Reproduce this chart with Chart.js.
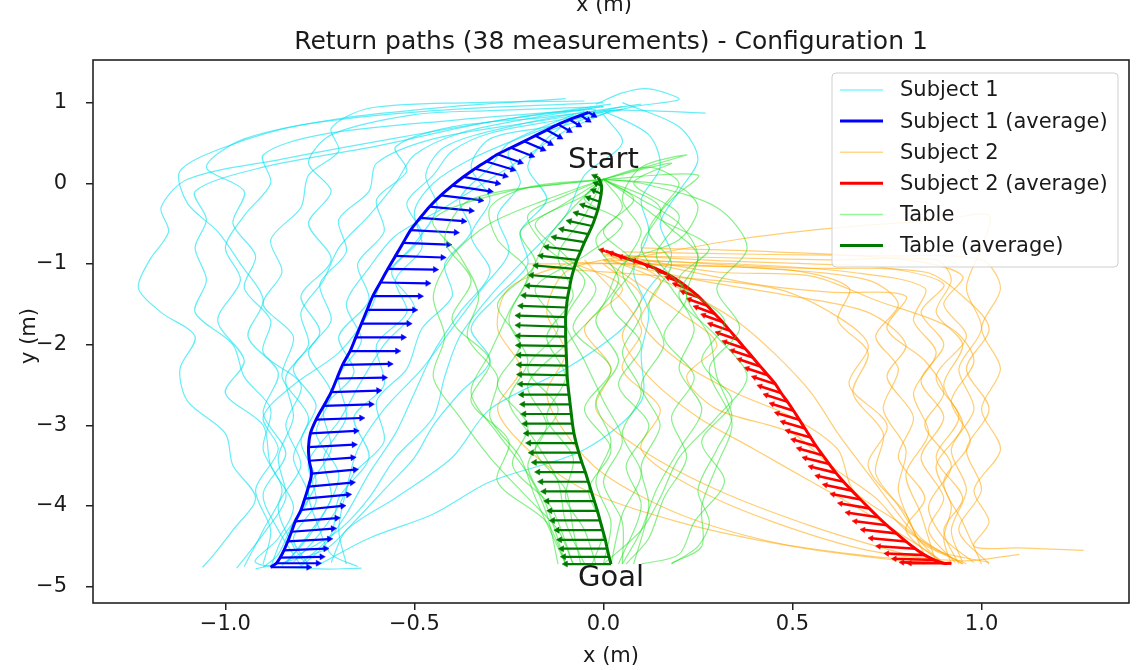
<!DOCTYPE html>
<html>
<head>
<meta charset="utf-8">
<script src="https://cdn.jsdelivr.net/npm/chart.js@4.4.1/dist/chart.umd.min.js"></script>
<style>
  html, body { margin: 0; padding: 0; background: #fff; }
</style>
</head>
<body>
<canvas id="myChart" width="1136" height="670"></canvas>
<script>
// tick labels
const xTicks = [-1.0, -0.5, 0.0, 0.5, 1.0];
const yTicks = [1, 0, -1, -2, -3, -4, -5];
const legendLabels = ['Subject 1', 'Subject 1 (average)', 'Subject 2', 'Subject 2 (average)', 'Table', 'Table (average)'];

// single return paths, [x, y] in m
const subject1Paths = [
  [[0.02,0.98],[-0.25,0.8],[-0.55,0.56],[-0.85,0.3],[-1.1,0.05],[-1.17,-0.3],[-1.15,-0.6],[-1.2,-0.95],[-1.23,-1.3],[-1.17,-1.6],[-1.08,-1.9],[-1.12,-2.3],[-1.1,-2.7],[-1.0,-3.1],[-0.98,-3.5],[-0.92,-3.9],[-0.98,-4.3],[-1.03,-4.6],[-1.06,-4.76]],
  [[0.0,0.95],[-0.3,0.76],[-0.6,0.46],[-0.9,0.2],[-1.08,-0.1],[-1.05,-0.45],[-1.08,-0.8],[-1.05,-1.2],[-1.08,-1.6],[-0.98,-2.0],[-0.95,-2.4],[-0.88,-2.8],[-0.9,-3.3],[-0.85,-3.8],[-0.9,-4.3],[-0.95,-4.75]],
  [[-0.05,1.02],[-0.35,1.0],[-0.62,0.93],[-0.72,0.68],[-0.7,0.4],[-0.78,0.1],[-0.8,-0.3],[-0.88,-0.7],[-0.85,-1.1],[-0.9,-1.5],[-0.82,-1.9],[-0.85,-2.4],[-0.78,-2.9],[-0.82,-3.4],[-0.78,-3.9],[-0.85,-4.4],[-0.88,-4.76]],
  [[0.05,0.92],[-0.2,0.75],[-0.45,0.55],[-0.6,0.25],[-0.62,-0.1],[-0.7,-0.45],[-0.68,-0.85],[-0.75,-1.25],[-0.72,-1.7],[-0.78,-2.1],[-0.72,-2.6],[-0.76,-3.1],[-0.7,-3.6],[-0.74,-4.1],[-0.8,-4.5],[-0.85,-4.74]],
  [[-0.02,0.9],[-0.2,0.6],[-0.35,0.3],[-0.45,0.0],[-0.5,-0.35],[-0.48,-0.8],[-0.55,-1.2],[-0.52,-1.6],[-0.6,-2.0],[-0.58,-2.5],[-0.66,-2.9],[-0.62,-3.4],[-0.7,-3.9],[-0.72,-4.35],[-0.8,-4.72]],
  [[0.1,0.98],[-0.15,0.82],[-0.4,0.7],[-0.55,0.45],[-0.52,0.15],[-0.6,-0.2],[-0.58,-0.6],[-0.65,-1.0],[-0.62,-1.45],[-0.7,-1.9],[-0.66,-2.35],[-0.74,-2.8],[-0.72,-3.3],[-0.78,-3.8],[-0.75,-4.3],[-0.72,-4.6],[-0.65,-4.75]],
  [[-0.08,0.85],[-0.25,0.5],[-0.3,0.2],[-0.38,-0.2],[-0.35,-0.6],[-0.42,-1.0],[-0.4,-1.4],[-0.48,-1.8],[-0.52,-2.3],[-0.6,-2.7],[-0.58,-3.2],[-0.66,-3.6],[-0.7,-4.0],[-0.76,-4.4],[-0.82,-4.7]],
  [[0.27,0.87],[0.0,0.9],[-0.25,0.7],[-0.42,0.45],[-0.47,0.1],[-0.44,-0.3],[-0.5,-0.75],[-0.58,-1.15],[-0.62,-1.6],[-0.7,-2.1],[-0.82,-2.5],[-0.9,-2.9],[-0.86,-3.3],[-0.92,-3.8],[-0.88,-4.3],[-0.9,-4.72]],
  [[0.0,0.9],[0.12,0.6],[0.15,0.2],[0.1,-0.2],[0.12,-0.6],[0.08,-1.1],[0.12,-1.6],[0.1,-2.1],[0.1,-2.7],[-0.05,-3.3],[-0.3,-3.7],[-0.45,-4.1],[-0.62,-4.4],[-0.75,-4.72]],
  [[0.05,1.0],[0.2,0.7],[0.25,0.3],[0.2,-0.1],[0.15,-0.5],[0.18,-0.9],[0.12,-1.3],[0.05,-1.8],[-0.1,-2.3],[-0.3,-2.8],[-0.4,-3.4],[-0.55,-3.9],[-0.68,-4.3],[-0.72,-4.7]],
  [[-0.1,1.05],[-0.4,0.95],[-0.7,0.8],[-0.95,0.55],[-1.05,0.2],[-0.95,-0.1],[-0.98,-0.5],[-0.92,-0.9],[-0.95,-1.3],[-0.88,-1.7],[-0.9,-2.1],[-0.8,-2.5],[-0.84,-3.0],[-0.8,-3.5],[-0.86,-4.0],[-0.82,-4.5],[-0.78,-4.76]],
  [[0.0,0.88],[-0.15,0.7],[-0.3,0.55],[-0.35,0.2],[-0.3,-0.2],[-0.35,-0.65],[-0.3,-1.1],[-0.38,-1.6],[-0.45,-2.1],[-0.5,-2.6],[-0.55,-3.1],[-0.62,-3.6],[-0.68,-4.1],[-0.74,-4.5],[-0.8,-4.75]],
  [[0.0,0.95],[-0.3,0.9],[-0.5,0.85],[-0.72,0.6],[-0.78,0.25],[-0.72,-0.1],[-0.78,-0.5],[-0.72,-0.95],[-0.8,-1.4],[-0.75,-1.85],[-0.82,-2.3],[-0.76,-2.75],[-0.8,-3.2],[-0.76,-3.7],[-0.82,-4.2],[-0.86,-4.6],[-0.9,-4.76]],
  [[-0.02,0.98],[0.05,1.12],[0.12,1.17],[0.2,1.04],[0.08,0.95],[-0.1,0.72],[-0.25,0.4],[-0.22,0.0],[-0.28,-0.4],[-0.25,-0.85],[-0.32,-1.3],[-0.4,-1.8],[-0.48,-2.3],[-0.58,-2.8],[-0.65,-3.3],[-0.68,-3.8],[-0.7,-4.3],[-0.68,-4.72]],
  [[-0.02,0.92],[-0.4,0.78],[-0.75,0.6],[-0.9,0.35],[-0.88,0.0],[-0.95,-0.4],[-1.0,-0.8],[-0.96,-1.2],[-1.02,-1.7],[-0.95,-2.2],[-1.0,-2.6],[-0.9,-3.0],[-0.88,-3.5],[-0.82,-4.0],[-0.86,-4.4],[-0.92,-4.7],[-0.75,-4.78],[-0.64,-4.77]],
  [[0.0,0.85],[0.05,0.5],[-0.05,0.1],[-0.1,-0.4],[-0.2,-0.9],[-0.3,-1.4],[-0.38,-1.9],[-0.42,-2.4],[-0.45,-2.9],[-0.55,-3.4],[-0.62,-3.9],[-0.7,-4.3],[-0.85,-4.72]],
  [[-0.03,0.93],[-0.2,0.8],[-0.38,0.62],[-0.5,0.35],[-0.55,0.0],[-0.62,-0.4],[-0.7,-0.8],[-0.74,-1.2],[-0.8,-1.6],[-0.78,-2.0],[-0.84,-2.4],[-0.82,-2.9],[-0.86,-3.4],[-0.84,-3.9],[-0.9,-4.35],[-0.97,-4.77]],
  [[0.02,0.9],[-0.1,0.65],[-0.2,0.35],[-0.3,0.05],[-0.42,-0.3],[-0.55,-0.65],[-0.62,-1.05],[-0.68,-1.5],[-0.64,-1.95],[-0.7,-2.4],[-0.68,-2.9],[-0.74,-3.4],[-0.72,-3.9],[-0.78,-4.35],[-0.84,-4.72]],
  [[0.0,1.0],[-0.45,0.9],[-0.8,0.72],[-1.0,0.45],[-1.12,0.15],[-1.1,-0.25],[-1.02,-0.6],[-0.96,-1.0],[-0.9,-1.45],[-0.94,-1.9],[-0.86,-2.35],[-0.9,-2.85],[-0.84,-3.35],[-0.9,-3.85],[-0.86,-4.3],[-0.8,-4.74]],
  [[0.05,0.95],[-0.1,0.8],[-0.3,0.62],[-0.4,0.4],[-0.45,0.1],[-0.52,-0.25],[-0.48,-0.65],[-0.56,-1.1],[-0.5,-1.55],[-0.58,-2.0],[-0.64,-2.45],[-0.7,-2.95],[-0.78,-3.45],[-0.76,-3.95],[-0.82,-4.4],[-0.78,-4.73]],
  [[-0.05,0.9],[-0.15,0.55],[-0.2,0.2],[-0.15,-0.2],[-0.22,-0.6],[-0.2,-1.0],[-0.28,-1.4],[-0.35,-1.8],[-0.3,-2.2],[-0.38,-2.6],[-0.45,-3.0],[-0.5,-3.4],[-0.58,-3.8],[-0.66,-4.2],[-0.74,-4.55],[-0.92,-4.78]]
];

const subject2Paths = [
  [[0.0,-0.9],[0.3,-0.92],[0.6,-0.95],[0.88,-0.95],[0.92,-1.2],[0.88,-1.6],[0.95,-2.0],[0.9,-2.5],[0.95,-3.0],[0.88,-3.5],[0.92,-4.0],[0.9,-4.4],[0.92,-4.72]],
  [[0.0,-0.95],[0.35,-1.0],[0.65,-1.1],[0.85,-1.3],[0.82,-1.7],[0.88,-2.1],[0.82,-2.6],[0.86,-3.1],[0.8,-3.6],[0.84,-4.1],[0.88,-4.72]],
  [[0.05,-0.95],[0.35,-0.7],[0.6,-0.56],[0.9,-0.45],[1.02,-0.4],[1.0,-0.8],[0.96,-1.3],[1.0,-1.8],[0.94,-2.3],[0.98,-2.8],[0.92,-3.3],[0.96,-3.8],[0.92,-4.3],[0.95,-4.7]],
  [[-0.2,-1.0],[0.1,-1.0],[0.4,-1.05],[0.7,-1.2],[0.78,-1.5],[0.72,-1.9],[0.78,-2.3],[0.74,-2.8],[0.8,-3.3],[0.78,-3.8],[0.82,-4.3],[0.86,-4.72]],
  [[0.02,-0.95],[0.2,-1.3],[0.35,-1.7],[0.45,-2.1],[0.55,-2.6],[0.62,-3.1],[0.7,-3.6],[0.78,-4.1],[0.85,-4.5],[0.9,-4.72]],
  [[0.05,-0.9],[-0.1,-1.1],[-0.15,-1.6],[-0.1,-2.1],[-0.15,-2.6],[-0.1,-3.1],[0.0,-3.6],[0.2,-4.1],[0.45,-4.45],[0.7,-4.62],[0.88,-4.7]],
  [[0.0,-1.0],[0.1,-1.4],[0.05,-1.9],[0.12,-2.4],[0.25,-2.9],[0.4,-3.3],[0.55,-3.7],[0.7,-4.1],[0.82,-4.45],[0.9,-4.7]],
  [[0.05,-0.85],[0.4,-0.88],[0.75,-0.9],[1.0,-0.95],[1.05,-1.3],[1.0,-1.8],[1.05,-2.3],[1.0,-2.8],[1.05,-3.3],[0.98,-3.8],[1.02,-4.2],[0.98,-4.5],[1.1,-4.52],[1.27,-4.55]],
  [[0.0,-0.95],[0.25,-1.2],[0.5,-1.4],[0.7,-1.6],[0.8,-2.0],[0.75,-2.4],[0.82,-2.9],[0.78,-3.4],[0.85,-3.9],[0.8,-4.3],[0.9,-4.72]],
  [[-0.1,-1.0],[-0.25,-1.3],[-0.28,-1.8],[-0.22,-2.3],[-0.28,-2.8],[-0.2,-3.3],[-0.05,-3.8],[0.2,-4.2],[0.5,-4.5],[0.85,-4.72]],
  [[0.05,-0.9],[0.3,-1.1],[0.55,-1.15],[0.72,-1.45],[0.92,-1.8],[0.98,-2.2],[0.92,-2.7],[0.97,-3.2],[0.9,-3.7],[0.95,-4.2],[1.0,-4.72]],
  [[0.0,-0.95],[0.2,-1.6],[0.3,-2.0],[0.22,-2.4],[0.3,-2.8],[0.5,-3.1],[0.6,-3.5],[0.72,-3.9],[0.8,-4.3],[0.95,-4.72]],
  [[-0.05,-0.95],[0.1,-1.8],[0.05,-2.3],[0.15,-2.8],[0.1,-3.3],[0.25,-3.8],[0.45,-4.2],[0.7,-4.55],[0.95,-4.68],[1.1,-4.6]],
  [[0.05,-0.92],[0.4,-1.25],[0.6,-1.35],[0.8,-1.4],[0.75,-1.8],[0.85,-2.2],[0.9,-2.6],[0.85,-3.0],[0.92,-3.5],[0.86,-4.0],[0.9,-4.4],[0.98,-4.7]],
  [[0.1,-0.8],[0.45,-0.85],[0.8,-0.95],[0.95,-1.15],[0.9,-1.5],[0.96,-1.9],[0.88,-2.4],[0.94,-2.9],[0.88,-3.4],[0.95,-3.9],[0.9,-4.3],[0.94,-4.72]],
  [[-0.15,-1.05],[0.15,-1.15],[0.45,-1.3],[0.6,-1.6],[0.7,-2.0],[0.65,-2.5],[0.75,-3.0],[0.7,-3.5],[0.78,-4.0],[0.84,-4.4],[0.95,-4.72]],
  [[0.0,-0.88],[0.3,-0.96],[0.55,-1.0],[0.75,-1.05],[0.9,-1.25],[0.84,-1.6],[0.9,-2.0],[0.84,-2.45],[0.9,-2.9],[0.84,-3.4],[0.9,-3.9],[0.86,-4.3],[0.93,-4.7]],
  [[-0.08,-0.98],[0.2,-1.02],[0.5,-1.08],[0.65,-1.3],[0.62,-1.7],[0.7,-2.1],[0.66,-2.6],[0.74,-3.1],[0.72,-3.6],[0.8,-4.1],[0.84,-4.45],[0.96,-4.72]],
  [[0.02,-0.9],[0.15,-1.2],[0.1,-1.7],[0.2,-2.2],[0.35,-2.6],[0.5,-2.9],[0.62,-3.3],[0.66,-3.8],[0.78,-4.2],[0.88,-4.55],[1.02,-4.7]],
  [[-0.1,-0.95],[0.05,-1.3],[-0.05,-1.8],[0.02,-2.3],[-0.02,-2.8],[0.1,-3.3],[0.3,-3.8],[0.55,-4.25],[0.8,-4.6],[0.92,-4.72]],
  [[0.1,-0.95],[0.5,-1.05],[0.85,-1.1],[0.95,-1.4],[1.02,-1.8],[0.96,-2.3],[1.02,-2.8],[0.96,-3.3],[1.0,-3.8],[0.94,-4.3],[1.02,-4.72]]
];

const tablePaths = [
  [[0.0,0.05],[-0.15,-0.2],[-0.3,-0.5],[-0.4,-0.9],[-0.45,-1.4],[-0.42,-1.9],[-0.45,-2.4],[-0.38,-2.9],[-0.3,-3.4],[-0.2,-3.9],[-0.12,-4.3],[-0.08,-4.72]],
  [[0.0,0.05],[0.1,-0.2],[0.2,-0.5],[0.25,-0.9],[0.22,-1.4],[0.28,-1.9],[0.3,-2.4],[0.34,-2.9],[0.3,-3.3],[0.25,-3.8],[0.28,-4.2],[0.25,-4.5],[0.18,-4.72]],
  [[0.0,0.05],[0.22,0.35],[0.1,0.2],[0.05,-0.2],[0.1,-0.6],[0.05,-1.1],[0.1,-1.6],[0.05,-2.1],[0.1,-2.6],[0.05,-3.1],[0.1,-3.6],[0.05,-4.1],[0.02,-4.72]],
  [[0.0,0.05],[-0.08,-0.3],[-0.15,-0.7],[-0.2,-1.2],[-0.25,-1.7],[-0.2,-2.2],[-0.25,-2.7],[-0.18,-3.2],[-0.12,-3.7],[-0.1,-4.2],[-0.05,-4.72]],
  [[0.0,0.05],[0.05,-0.3],[-0.02,-0.7],[0.04,-1.2],[-0.02,-1.7],[0.04,-2.2],[-0.02,-2.7],[0.02,-3.2],[-0.02,-3.7],[0.02,-4.2],[0.0,-4.72]],
  [[0.0,0.05],[-0.25,-0.1],[-0.45,-0.45],[-0.38,-0.9],[-0.33,-1.4],[-0.36,-1.9],[-0.28,-2.4],[-0.3,-2.9],[-0.22,-3.4],[-0.18,-3.9],[-0.1,-4.72]],
  [[0.0,0.05],[0.25,0.1],[0.18,-0.2],[0.12,-0.6],[0.18,-1.0],[0.12,-1.5],[0.16,-2.0],[0.1,-2.5],[0.15,-3.0],[0.1,-3.5],[0.12,-4.0],[0.08,-4.72]],
  [[0.0,0.05],[-0.05,-0.4],[-0.12,-0.9],[-0.08,-1.4],[-0.15,-1.9],[-0.1,-2.4],[-0.15,-2.9],[-0.08,-3.4],[-0.1,-3.9],[-0.05,-4.3],[-0.02,-4.72]],
  [[0.0,0.05],[0.15,-0.3],[0.1,-0.8],[0.18,-1.3],[0.24,-1.8],[0.2,-2.3],[0.26,-2.8],[0.2,-3.3],[0.14,-3.8],[0.1,-4.3],[0.05,-4.72]],
  [[0.0,0.05],[-0.2,-0.05],[-0.3,-0.3],[-0.28,-0.7],[-0.2,-1.1],[-0.25,-1.6],[-0.3,-2.1],[-0.35,-2.6],[-0.28,-3.1],[-0.2,-3.6],[-0.15,-4.1],[-0.12,-4.72]],
  [[0.0,0.05],[0.1,0.0],[0.3,-0.3],[0.38,-0.8],[0.3,-1.3],[0.36,-1.8],[0.28,-2.3],[0.34,-2.97],[0.3,-3.5],[0.26,-4.0],[0.26,-4.5],[0.18,-4.71]],
  [[0.0,0.05],[-0.1,-0.15],[-0.2,-0.4],[-0.15,-0.8],[-0.05,-1.2],[-0.1,-1.7],[-0.05,-2.2],[0.0,-2.7],[0.05,-3.2],[0.0,-3.7],[0.05,-4.2],[0.05,-4.72]],
  [[0.0,0.05],[0.2,-0.05],[0.25,-0.3],[0.2,-0.7],[0.05,-1.0],[0.0,-1.5],[-0.1,-2.0],[-0.2,-2.5],[-0.15,-3.0],[-0.2,-3.5],[-0.15,-4.0],[-0.1,-4.72]],
  [[0.0,0.05],[-0.35,-0.2],[-0.42,-0.7],[-0.35,-1.2],[-0.4,-1.7],[-0.3,-2.2],[-0.35,-2.7],[-0.25,-3.2],[-0.28,-3.7],[-0.15,-4.2],[-0.1,-4.72]],
  [[0.0,0.05],[0.12,0.2],[0.2,0.0],[0.15,-0.4],[0.25,-0.9],[0.2,-1.4],[0.3,-1.9],[0.38,-2.4],[0.3,-2.9],[0.2,-3.4],[0.15,-3.9],[0.1,-4.3],[0.0,-4.72]],
  [[0.0,0.05],[-0.05,-0.2],[0.05,-0.5],[-0.05,-0.9],[-0.18,-1.3],[-0.12,-1.8],[-0.2,-2.3],[-0.12,-2.8],[-0.18,-3.3],[-0.1,-3.8],[-0.08,-4.3],[-0.06,-4.72]],
  [[0.0,0.05],[0.08,-0.2],[0.0,-0.6],[0.08,-1.0],[0.02,-1.5],[0.1,-2.0],[0.04,-2.5],[0.12,-3.0],[0.06,-3.5],[0.1,-4.0],[0.04,-4.72]],
  [[0.0,0.05],[-0.12,-0.3],[-0.22,-0.6],[-0.18,-1.0],[-0.28,-1.5],[-0.22,-2.0],[-0.28,-2.5],[-0.2,-3.0],[-0.24,-3.5],[-0.14,-4.0],[-0.08,-4.72]],
  [[0.0,0.05],[0.18,0.25],[0.08,0.0],[0.2,-0.4],[0.14,-0.9],[0.22,-1.4],[0.16,-1.9],[0.24,-2.4],[0.18,-2.9],[0.22,-3.4],[0.16,-3.9],[0.12,-4.4],[0.06,-4.72]],
  [[0.0,0.05],[-0.05,-0.15],[-0.18,-0.5],[-0.1,-0.9],[-0.02,-1.3],[-0.08,-1.8],[0.02,-2.3],[-0.05,-2.8],[0.02,-3.3],[-0.04,-3.8],[0.0,-4.3],[-0.03,-4.72]],
  [[0.0,0.05],[0.05,-0.1],[0.15,-0.45],[0.28,-0.8],[0.2,-1.2],[0.32,-1.7],[0.26,-2.2],[0.34,-2.7],[0.26,-3.2],[0.32,-3.7],[0.24,-4.2],[0.2,-4.6],[0.1,-4.72]]
];

// average paths and their orientation arrows (u, v in m)
const subject1AvgX = [-0.04,-0.06,-0.09,-0.12,-0.15,-0.18,-0.21,-0.245,-0.28,-0.31,-0.34,-0.37,-0.40,-0.43,-0.46,-0.485,-0.51,-0.53,-0.55,-0.57,-0.59,-0.61,-0.625,-0.64,-0.655,-0.67,-0.69,-0.705,-0.72,-0.74,-0.76,-0.775,-0.78,-0.778,-0.772,-0.78,-0.79,-0.80,-0.815,-0.825,-0.835,-0.845,-0.855,-0.865,-0.88];
const subject1AvgY = [0.88,0.84,0.79,0.73,0.66,0.59,0.52,0.44,0.36,0.27,0.18,0.08,-0.03,-0.15,-0.29,-0.43,-0.58,-0.74,-0.90,-1.06,-1.23,-1.40,-1.57,-1.74,-1.91,-2.08,-2.25,-2.42,-2.59,-2.76,-2.93,-3.10,-3.27,-3.44,-3.60,-3.76,-3.91,-4.05,-4.19,-4.32,-4.44,-4.55,-4.64,-4.71,-4.76];
const subject1ArrowU = [0.015,0.02,0.025,0.03,0.035,0.04,0.05,0.055,0.06,0.07,0.08,0.09,0.1,0.105,0.11,0.115,0.12,0.12,0.125,0.125,0.125,0.125,0.125,0.125,0.125,0.125,0.125,0.125,0.125,0.125,0.12,0.12,0.12,0.115,0.115,0.115,0.115,0.11,0.11,0.11,0.11,0.11,0.11,0.11,0.10];
const subject1ArrowV = [-0.04,-0.06,-0.07,-0.08,-0.09,-0.1,-0.1,-0.1,-0.1,-0.1,-0.09,-0.08,-0.07,-0.06,-0.05,-0.04,-0.03,-0.02,-0.02,-0.01,-0.01,0,0,0,0,0,0.01,0.01,0.02,0.02,0.02,0.03,0.03,0.04,0.05,0.05,0.05,0.05,0.04,0.04,0.03,0.02,0.01,0,0];

const subject2AvgX = [0.005,0.03,0.06,0.10,0.14,0.175,0.205,0.23,0.255,0.275,0.295,0.315,0.335,0.355,0.375,0.395,0.415,0.435,0.455,0.47,0.487,0.503,0.518,0.533,0.548,0.563,0.58,0.597,0.615,0.635,0.657,0.68,0.703,0.727,0.75,0.775,0.80,0.825,0.85,0.875,0.90,0.92];
const subject2AvgY = [-0.84,-0.88,-0.93,-0.99,-1.06,-1.14,-1.23,-1.32,-1.42,-1.52,-1.62,-1.72,-1.83,-1.94,-2.05,-2.16,-2.27,-2.38,-2.49,-2.60,-2.71,-2.82,-2.93,-3.04,-3.15,-3.26,-3.37,-3.48,-3.59,-3.70,-3.81,-3.92,-4.03,-4.14,-4.24,-4.34,-4.44,-4.53,-4.61,-4.67,-4.71,-4.71];
const subject2ArrowU = [-0.01,-0.01,-0.015,-0.02,-0.025,-0.03,-0.035,-0.04,-0.045,-0.048,-0.05,-0.05,-0.052,-0.052,-0.054,-0.054,-0.055,-0.055,-0.056,-0.056,-0.057,-0.057,-0.058,-0.058,-0.06,-0.06,-0.062,-0.064,-0.066,-0.068,-0.07,-0.073,-0.076,-0.08,-0.084,-0.088,-0.092,-0.097,-0.1,-0.105,-0.11,-0.11];
const subject2ArrowV = [0.01,0.015,0.02,0.03,0.04,0.05,0.06,0.07,0.075,0.08,0.085,0.085,0.085,0.085,0.085,0.085,0.085,0.085,0.085,0.085,0.085,0.085,0.08,0.08,0.08,0.08,0.08,0.075,0.075,0.07,0.07,0.065,0.06,0.055,0.05,0.045,0.04,0.03,0.02,0.015,0.01,0];

const tableAvgX = [-0.013,-0.005,-0.006,-0.010,-0.015,-0.022,-0.030,-0.040,-0.050,-0.060,-0.070,-0.078,-0.085,-0.090,-0.095,-0.098,-0.100,-0.100,-0.100,-0.099,-0.098,-0.097,-0.096,-0.094,-0.091,-0.088,-0.085,-0.082,-0.078,-0.072,-0.065,-0.057,-0.048,-0.040,-0.032,-0.024,-0.016,-0.009,-0.002,0.005,0.010,0.015,0.020];
const tableAvgY = [0.07,-0.03,-0.13,-0.23,-0.33,-0.43,-0.53,-0.63,-0.73,-0.84,-0.95,-1.06,-1.18,-1.30,-1.42,-1.54,-1.66,-1.78,-1.90,-2.02,-2.14,-2.26,-2.38,-2.50,-2.62,-2.74,-2.86,-2.98,-3.10,-3.22,-3.34,-3.46,-3.58,-3.70,-3.82,-3.94,-4.06,-4.18,-4.30,-4.42,-4.53,-4.63,-4.72];
const tableArrowU = [-0.01,-0.015,-0.02,-0.03,-0.04,-0.05,-0.06,-0.07,-0.08,-0.09,-0.095,-0.1,-0.105,-0.11,-0.115,-0.12,-0.125,-0.125,-0.125,-0.125,-0.125,-0.125,-0.125,-0.125,-0.125,-0.125,-0.125,-0.125,-0.125,-0.125,-0.125,-0.125,-0.125,-0.125,-0.125,-0.125,-0.125,-0.125,-0.12,-0.12,-0.12,-0.12,-0.12];
const tableArrowV = [0.02,0.03,0.04,0.05,0.06,0.06,0.06,0.06,0.06,0.05,0.05,0.04,0.04,0.03,0.03,0.02,0.02,0.02,0.01,0.01,0.01,0.01,0.01,0.01,0,0,0,0,0,0,0,0,0,0,0,0,0,0,0,0,0,0,0];

const FONT = "'DejaVu Sans', 'Liberation Sans', sans-serif";
const TEXT = '#1a1a1a';

const thinStyle = {
  s1: { color: 'rgba(0,225,240,0.6)', order: 90 },
  s2: { color: 'rgba(255,165,0,0.55)', order: 70 },
  tb: { color: 'rgba(20,225,20,0.5)', order: 50 }
};
const avgStyle = {
  s1: { color: '#0000ff', order: 80, head: 3.5, shaft: 2.2 },
  s2: { color: '#ff0000', order: 60, head: 3.2, shaft: 2.6 },
  tb: { color: '#007a00', order: 40, head: 3.5, shaft: 2.2 }
};

function pathDataset(path, st) {
  return {
    data: path.map(p => ({ x: p[0], y: p[1] })),
    showLine: true, borderColor: st.color, borderWidth: 1.2,
    pointRadius: 0, tension: 0.3, order: st.order
  };
}

function avgDatasets(xs, ys, us, vs, st) {
  const line = {
    data: xs.map((x, i) => ({ x: x, y: ys[i] })),
    showLine: true, borderColor: st.color, borderWidth: 3,
    pointRadius: 0, tension: 0.3, order: st.order
  };
  const shafts = [];
  const heads = [];
  xs.forEach((x, i) => {
    shafts.push({ x: x, y: ys[i] }, { x: x + us[i], y: ys[i] + vs[i] }, { x: x, y: null });
    heads.push({ x: x + us[i], y: ys[i] + vs[i], u: us[i], v: vs[i] });
  });
  const shaftSet = {
    data: shafts, showLine: true, spanGaps: false, borderColor: st.color,
    borderWidth: st.shaft, pointRadius: 0, tension: 0, order: st.order - 1
  };
  const headSet = {
    data: heads, showLine: false, pointStyle: 'triangle', pointRadius: st.head,
    backgroundColor: st.color, borderColor: st.color, borderWidth: 0.5,
    order: st.order - 2,
    pointRotation: function (c) {
      const p = c.raw;
      if (!p) return 0;
      const sx = c.chart.scales.x, sy = c.chart.scales.y;
      const dx = sx.getPixelForValue(p.x) - sx.getPixelForValue(p.x - p.u);
      const dy = sy.getPixelForValue(p.y) - sy.getPixelForValue(p.y - p.v);
      return Math.atan2(dx, -dy) * 180 / Math.PI;
    }
  };
  return [line, shaftSet, headSet];
}

const datasets = [];
subject1Paths.forEach(p => datasets.push(pathDataset(p, thinStyle.s1)));
subject2Paths.forEach(p => datasets.push(pathDataset(p, thinStyle.s2)));
tablePaths.forEach(p => datasets.push(pathDataset(p, thinStyle.tb)));
datasets.push(...avgDatasets(subject1AvgX, subject1AvgY, subject1ArrowU, subject1ArrowV, avgStyle.s1));
datasets.push(...avgDatasets(subject2AvgX, subject2AvgY, subject2ArrowU, subject2ArrowV, avgStyle.s2));
datasets.push(...avgDatasets(tableAvgX, tableAvgY, tableArrowU, tableArrowV, avgStyle.tb));

const legendStyle = [
  { color: 'rgba(0,240,255,0.5)', width: 1.5 },
  { color: '#0000ff', width: 3 },
  { color: 'rgba(255,165,0,0.45)', width: 1.5 },
  { color: '#ff0000', width: 3 },
  { color: 'rgba(0,230,0,0.4)', width: 1.5 },
  { color: '#007a00', width: 3 }
];

function minus(s) { return String(s).replace('-', '\u2212'); }

const decor = {
  id: 'decor',
  afterDatasetsDraw(chart) {
    const c = chart.ctx, a = chart.chartArea;
    const sx = chart.scales.x, sy = chart.scales.y;
    c.save();
    // frame
    c.strokeStyle = '#222';
    c.lineWidth = 1.6;
    c.strokeRect(a.left, a.top, a.right - a.left, a.bottom - a.top);
    // start / goal labels
    c.fillStyle = TEXT;
    c.font = '29px ' + FONT;
    c.textAlign = 'center';
    c.textBaseline = 'middle';
    c.fillText('Start', sx.getPixelForValue(0.0), sy.getPixelForValue(0.28));
    c.fillText('Goal', sx.getPixelForValue(0.02), sy.getPixelForValue(-4.9));
    // legend
    const lx = 832, ly = 73, lw = 286, lh = 194;
    c.beginPath();
    c.roundRect(lx, ly, lw, lh, 4);
    c.fillStyle = 'rgba(255,255,255,0.85)';
    c.fill();
    c.strokeStyle = '#cfcfcf';
    c.lineWidth = 1;
    c.stroke();
    c.font = '21px ' + FONT;
    c.textAlign = 'left';
    legendLabels.forEach((lab, i) => {
      const yy = 90 + i * 31.1;
      c.strokeStyle = legendStyle[i].color;
      c.lineWidth = legendStyle[i].width;
      c.beginPath();
      c.moveTo(840, yy);
      c.lineTo(883, yy);
      c.stroke();
      c.fillStyle = TEXT;
      c.fillText(lab, 900, yy + 1);
    });
    // titles
    c.textAlign = 'center';
    c.font = '25px ' + FONT;
    c.fillText('Return paths (38 measurements) - Configuration 1', (a.left + a.right) / 2, 42);
    c.font = '21px ' + FONT;
    c.fillText('x (m)', (a.left + a.right) / 2, 657);
    c.textBaseline = 'alphabetic';
    c.fillText('x (m)', 604, 11);
    c.textBaseline = 'middle';
    c.translate(30, 336);
    c.rotate(-Math.PI / 2);
    c.fillText('y (m)', 0, 0);
    c.restore();
  }
};

const ctx = document.getElementById('myChart').getContext('2d');
const myChart = new Chart(ctx, {
  type: 'scatter',
  data: { datasets: datasets },
  options: {
    responsive: false,
    animation: false,
    events: [],
    layout: { padding: { top: 60, right: 7, bottom: 0, left: 0 } },
    plugins: { legend: { display: false }, tooltip: { enabled: false } },
    scales: {
      x: {
        type: 'linear', min: -1.35, max: 1.39,
        afterFit: s => { s.height = 67; },
        afterBuildTicks: s => { s.ticks = xTicks.map(v => ({ value: v })); },
        ticks: {
          callback: v => minus(v.toFixed(1)),
          font: { family: FONT, size: 21 }, color: TEXT, padding: 2,
          maxRotation: 0, autoSkip: false
        },
        grid: { drawOnChartArea: false, tickLength: 7, color: '#222', lineWidth: 1.5 },
        border: { display: false }
      },
      y: {
        type: 'linear', min: -5.203, max: 1.528,
        afterFit: s => { s.width = 93; },
        afterBuildTicks: s => { s.ticks = yTicks.map(v => ({ value: v })); },
        ticks: {
          callback: v => minus(v),
          font: { family: FONT, size: 21 }, color: TEXT, padding: 19,
          autoSkip: false
        },
        grid: { drawOnChartArea: false, tickLength: 7, color: '#222', lineWidth: 1.5 },
        border: { display: false }
      }
    }
  },
  plugins: [decor]
});
</script>
</body>
</html>
